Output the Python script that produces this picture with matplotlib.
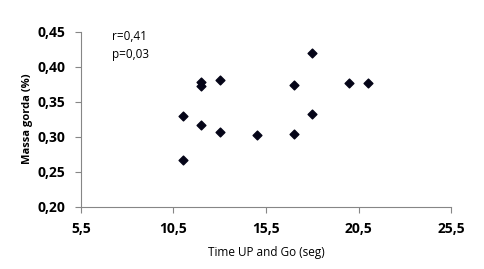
import matplotlib

matplotlib.use("Agg")
import matplotlib.pyplot as plt
from matplotlib.ticker import FuncFormatter

# Time UP and Go (seg) vs Massa gorda (%)
tug_seg = [11.0, 11.0, 12.0, 12.0, 12.0, 13.0, 13.0, 15.0, 17.0, 17.0, 18.0, 18.0, 20.0, 21.0]
massa_gorda = [0.330, 0.267, 0.378, 0.373, 0.317, 0.381, 0.307, 0.303, 0.374, 0.304, 0.419, 0.333, 0.377, 0.377]

x_ticks = [5.5, 10.5, 15.5, 20.5, 25.5]
y_ticks = [0.20, 0.25, 0.30, 0.35, 0.40, 0.45]

plt.rcParams["font.family"] = ["Open Sans", "DejaVu Sans"]

fig = plt.figure(figsize=(4.84, 2.69), dpi=100)
ax = fig.add_axes([0.167, 0.232, 0.765, 0.650])

ax.scatter(tug_seg, massa_gorda, marker="D", s=20, color="#050518", zorder=3)

ax.set_xlim(5.5, 25.5)
ax.set_ylim(0.20, 0.45)
ax.set_xticks(x_ticks)
ax.set_yticks(y_ticks)
ax.xaxis.set_major_formatter(FuncFormatter(lambda v, _: f"{v:.1f}".replace(".", ",")))
ax.yaxis.set_major_formatter(FuncFormatter(lambda v, _: f"{v:.2f}".replace(".", ",")))

for side in ("top", "right"):
    ax.spines[side].set_visible(False)
for side in ("left", "bottom"):
    ax.spines[side].set_color("#868686")
    ax.spines[side].set_linewidth(0.8)
ax.tick_params(axis="both", direction="out", length=4, width=0.8, color="#868686",
               labelsize=10)
ax.tick_params(axis="y", pad=7)
ax.tick_params(axis="x", pad=7)
for lbl in ax.get_xticklabels() + ax.get_yticklabels():
    lbl.set_fontweight("bold")

ax.set_xlabel("Time UP and Go (seg)", fontsize=8.5, labelpad=7)
ax.set_ylabel("Massa gorda (%)", fontsize=8, fontweight="bold", labelpad=3)

ax.text(0.083, 0.97, "r=0,41", transform=ax.transAxes, fontsize=8.5, va="center", ha="left")
ax.text(0.083, 0.87, "p=0,03", transform=ax.transAxes, fontsize=8.5, va="center", ha="left")

fig.savefig("out.png", dpi=100)
